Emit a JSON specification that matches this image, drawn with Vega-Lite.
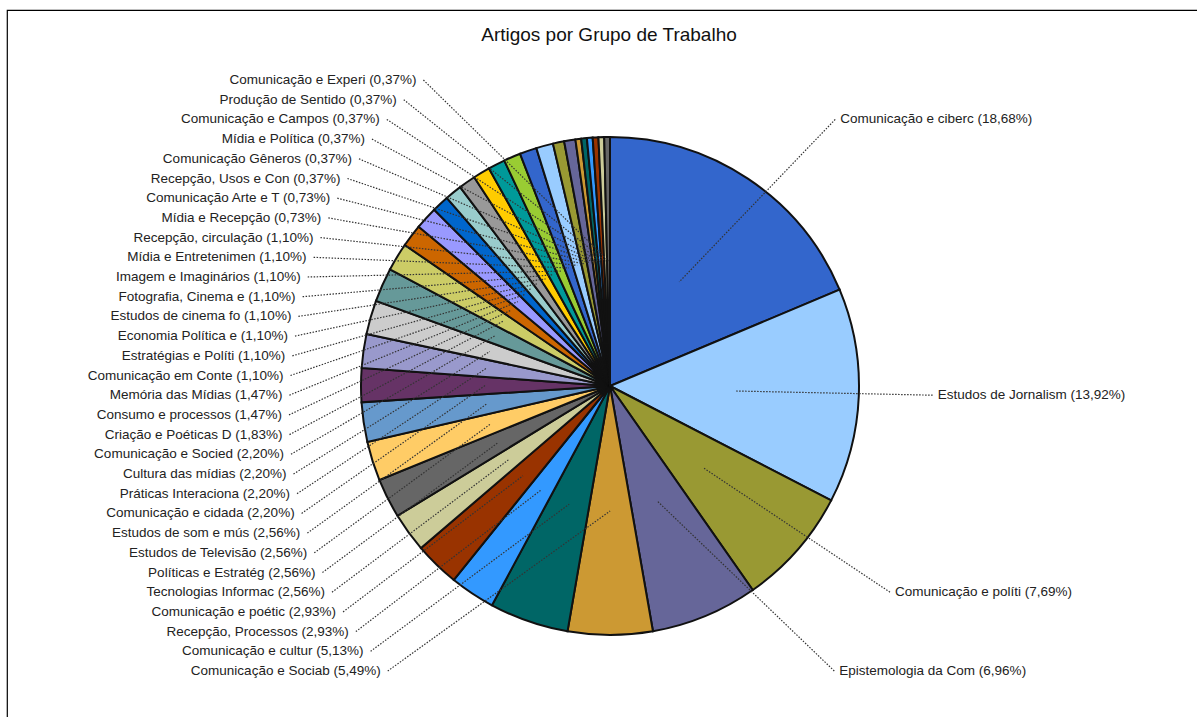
{
  "$schema": "https://vega.github.io/schema/vega-lite/v6.json",
  "width": 1192,
  "height": 709,
  "autosize": {"type": "none"},
  "padding": {"left": 7, "top": 10, "right": 0, "bottom": 0},
  "background": "white",
  "config": {"view": {"stroke": "#000", "strokeWidth": 1.2}, "font": "Liberation Sans"},
  "title": {"text": "Artigos por Grupo de Trabalho", "fontSize": 19, "fontWeight": "normal", "color": "#111", "font": "Liberation Sans", "anchor": "middle", "offset": -50, "baseline": "alphabetic", "dx": 6},
  "data": {"values": [
    {"order": 1, "grupo": "Comunicação e ciberc", "pct": 18.68, "label": "Comunicação e ciberc (18,68%)"},
    {"order": 2, "grupo": "Estudos de Jornalism", "pct": 13.92, "label": "Estudos de Jornalism (13,92%)"},
    {"order": 3, "grupo": "Comunicação e políti", "pct": 7.69, "label": "Comunicação e políti (7,69%)"},
    {"order": 4, "grupo": "Epistemologia da Com", "pct": 6.96, "label": "Epistemologia da Com (6,96%)"},
    {"order": 5, "grupo": "Comunicação e Sociab", "pct": 5.49, "label": "Comunicação e Sociab (5,49%)"},
    {"order": 6, "grupo": "Comunicação e cultur", "pct": 5.13, "label": "Comunicação e cultur (5,13%)"},
    {"order": 7, "grupo": "Recepção, Processos", "pct": 2.93, "label": "Recepção, Processos  (2,93%)"},
    {"order": 8, "grupo": "Comunicação e poétic", "pct": 2.93, "label": "Comunicação e poétic (2,93%)"},
    {"order": 9, "grupo": "Tecnologias Informac", "pct": 2.56, "label": "Tecnologias Informac (2,56%)"},
    {"order": 10, "grupo": "Políticas e Estratég", "pct": 2.56, "label": "Políticas e Estratég (2,56%)"},
    {"order": 11, "grupo": "Estudos de Televisão", "pct": 2.56, "label": "Estudos de Televisão (2,56%)"},
    {"order": 12, "grupo": "Estudos de som e mús", "pct": 2.56, "label": "Estudos de som e mús (2,56%)"},
    {"order": 13, "grupo": "Comunicação e cidada", "pct": 2.20, "label": "Comunicação e cidada (2,20%)"},
    {"order": 14, "grupo": "Práticas Interaciona", "pct": 2.20, "label": "Práticas Interaciona (2,20%)"},
    {"order": 15, "grupo": "Cultura das mídias", "pct": 2.20, "label": "Cultura das mídias (2,20%)"},
    {"order": 16, "grupo": "Comunicação e Socied", "pct": 2.20, "label": "Comunicação e Socied (2,20%)"},
    {"order": 17, "grupo": "Criação e Poéticas D", "pct": 1.83, "label": "Criação e Poéticas D (1,83%)"},
    {"order": 18, "grupo": "Consumo e processos", "pct": 1.47, "label": "Consumo e processos  (1,47%)"},
    {"order": 19, "grupo": "Memória das Mídias", "pct": 1.47, "label": "Memória das Mídias (1,47%)"},
    {"order": 20, "grupo": "Comunicação em Conte", "pct": 1.10, "label": "Comunicação em Conte (1,10%)"},
    {"order": 21, "grupo": "Estratégias e Políti", "pct": 1.10, "label": "Estratégias e Políti (1,10%)"},
    {"order": 22, "grupo": "Economia Política e", "pct": 1.10, "label": "Economia Política e  (1,10%)"},
    {"order": 23, "grupo": "Estudos de cinema fo", "pct": 1.10, "label": "Estudos de cinema fo (1,10%)"},
    {"order": 24, "grupo": "Fotografia, Cinema e", "pct": 1.10, "label": "Fotografia, Cinema e (1,10%)"},
    {"order": 25, "grupo": "Imagem e Imaginários", "pct": 1.10, "label": "Imagem e Imaginários (1,10%)"},
    {"order": 26, "grupo": "Mídia e Entretenimen", "pct": 1.10, "label": "Mídia e Entretenimen (1,10%)"},
    {"order": 27, "grupo": "Recepção, circulação", "pct": 1.10, "label": "Recepção, circulação (1,10%)"},
    {"order": 28, "grupo": "Mídia e Recepção", "pct": 0.73, "label": "Mídia e Recepção (0,73%)"},
    {"order": 29, "grupo": "Comunicação Arte e T", "pct": 0.73, "label": "Comunicação Arte e T (0,73%)"},
    {"order": 30, "grupo": "Recepção, Usos e Con", "pct": 0.37, "label": "Recepção, Usos e Con (0,37%)"},
    {"order": 31, "grupo": "Comunicação Gêneros", "pct": 0.37, "label": "Comunicação Gêneros  (0,37%)"},
    {"order": 32, "grupo": "Mídia e Política", "pct": 0.37, "label": "Mídia e Política (0,37%)"},
    {"order": 33, "grupo": "Comunicação e Campos", "pct": 0.37, "label": "Comunicação e Campos (0,37%)"},
    {"order": 34, "grupo": "Produção de Sentido", "pct": 0.37, "label": "Produção de Sentido  (0,37%)"},
    {"order": 35, "grupo": "Comunicação e Experi", "pct": 0.37, "label": "Comunicação e Experi (0,37%)"}
  ]},
  "transform": [
    {"window": [{"op": "sum", "field": "pct", "as": "cum"}], "sort": [{"field": "order"}], "frame": [null, 0]},
    {"joinaggregate": [{"op": "sum", "field": "pct", "as": "total"}]},
    {"calculate": "2*PI*(datum.cum - datum.pct/2)/datum.total", "as": "mid"},
    {"calculate": "datum.order <= 4 ? round((306 - 315*cos(datum.mid))/19.7) + 1 : 36 - datum.order", "as": "row"},
    {"calculate": "306 - (datum.row - 1)*19.7", "as": "ly"},
    {"calculate": "80 + (datum.row - 1)*19.7 - 415", "as": "dy"},
    {"calculate": "328*sqrt(max(0, 1 - pow(datum.dy/(datum.dy < 0 ? 415 : 358), 2)))", "as": "off"},
    {"calculate": "datum.order <= 4 ? datum.off : -datum.off", "as": "lx"},
    {"calculate": "datum.order <= 4 ? datum.off - 5 : 7 - datum.off", "as": "sx"},
    {"calculate": "125*sin(datum.mid)", "as": "ax"},
    {"calculate": "125*cos(datum.mid)", "as": "ay"}
  ],
  "layer": [
    {
      "mark": {"type": "arc", "outerRadius": 249, "stroke": "#111", "strokeWidth": 2},
      "encoding": {
        "theta": {"field": "pct", "type": "quantitative", "stack": true},
        "order": {"field": "order", "type": "quantitative"},
        "color": {"field": "order", "type": "nominal", "legend": null,
          "scale": {"domain": [1,2,3,4,5,6,7,8,9,10,11,12,13,14,15,16,17,18,19,20,21,22,23,24,25,26,27,28,29,30,31,32,33,34,35],
            "range": ["#3366CC","#99CCFF","#999933","#666699","#CC9933","#006666","#3399FF","#993300","#CCCC99","#666666","#FFCC66","#6699CC","#663366","#9999CC","#CCCCCC","#669999","#CCCC66","#CC6600","#9999FF","#0066CC","#99CCCC","#999999","#FFCC00","#009999","#99CC33","#3366CC","#99CCFF","#999933","#666699","#CC9933","#006666","#3399FF","#993300","#CCCC99","#666666"]}},
        "x": {"datum": 0, "type": "quantitative", "scale": {"domain": [-603, 589], "nice": false, "zero": false}, "axis": null},
        "y": {"datum": 0, "type": "quantitative", "scale": {"domain": [-333, 376], "nice": false, "zero": false}, "axis": null}
      }
    },
    {
      "mark": {"type": "rule", "strokeDash": [1.5, 1.5], "strokeWidth": 1.2, "color": "#333"},
      "encoding": {
        "x": {"field": "sx", "type": "quantitative", "scale": {"domain": [-603, 589], "nice": false, "zero": false}, "axis": null},
        "y": {"field": "ly", "type": "quantitative", "scale": {"domain": [-333, 376], "nice": false, "zero": false}, "axis": null},
        "x2": {"field": "ax"},
        "y2": {"field": "ay"}
      }
    },
    {
      "transform": [{"filter": "datum.order > 4"}],
      "mark": {"type": "text", "align": "right", "baseline": "middle", "fontSize": 13.5, "color": "#222", "font": "Liberation Sans"},
      "encoding": {
        "x": {"field": "lx", "type": "quantitative", "scale": {"domain": [-603, 589], "nice": false, "zero": false}, "axis": null},
        "y": {"field": "ly", "type": "quantitative", "scale": {"domain": [-333, 376], "nice": false, "zero": false}, "axis": null},
        "text": {"field": "label"}
      }
    },
    {
      "transform": [{"filter": "datum.order <= 4"}],
      "mark": {"type": "text", "align": "left", "baseline": "middle", "fontSize": 13.5, "color": "#222", "font": "Liberation Sans"},
      "encoding": {
        "x": {"field": "lx", "type": "quantitative", "scale": {"domain": [-603, 589], "nice": false, "zero": false}, "axis": null},
        "y": {"field": "ly", "type": "quantitative", "scale": {"domain": [-333, 376], "nice": false, "zero": false}, "axis": null},
        "text": {"field": "label"}
      }
    }
  ]
}
